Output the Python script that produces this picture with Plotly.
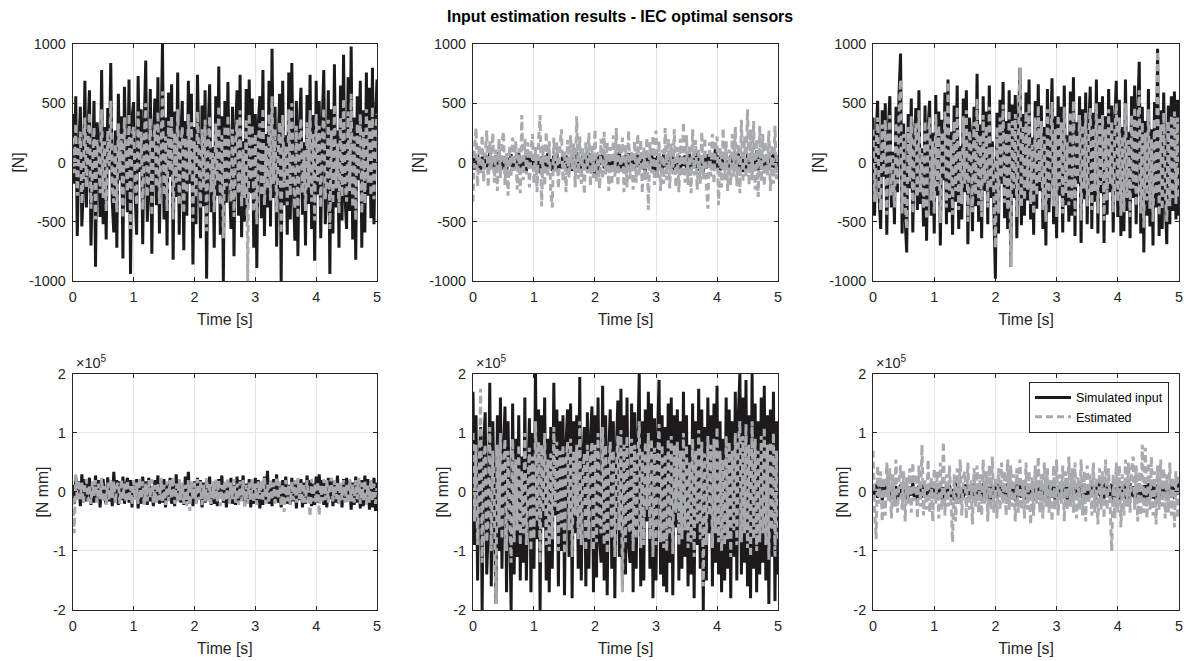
import plotly.graph_objects as go

# ---------------- data ----------------
time_s = [round(i * 0.025, 3) for i in range(201)]

sim1 = [410, -180, 560, -620, 90, 470, -540, -210, 690, -380,
        250, 610, -700, -90, 520, -880, 340, 120, -460, 780,
        -520, 300, -650, 460, -60, 840, -330, -590, 270, -720,
        580, -150, 390, -810, 640, 20, -420, 700, -940, 380,
        510, -260, -610, 730, -80, 450, -690, 310, 860, -500,
        -230, 620, -770, 190, 540, -360, 720, -600, 140, 1000,
        -480, 380, -700, 590, -120, 660, -820, 430, -290, 760,
        -610, 200, 520, -740, 350, -450, 690, -180, 580, -860,
        300, -520, 740, -90, -640, 480, -370, 610, -980, 250,
        660, -420, 130, -720, 560, -280, 810, -610, 390, -1000,
        520, -340, 680, -150, -560, 470, -790, 260, 610, -450,
        740, -630, 180, -500, 620, -380, 700, -260, 540, -720,
        410, -890, 330, 560, -470, 780, -620, 240, -380, 690,
        -540, 960, -300, 470, -710, 120, 580, -1000, 690, -360,
        230, -610, 760, -480, 840, -200, -660, 520, -790, 300,
        630, -440, 170, -700, 570, -350, 740, -560, 400, -830,
        690, -270, 520, -640, 320, 780, -520, -180, 610, -940,
        450, -600, 830, -380, 270, -720, 650, -490, 910, -300,
        -560, 720, -410, 980, -650, 380, -820, 560, -150, 690,
        -720, 440, -590, 760, -280, 630, -470, 800, -520, 360,
        700]
est1 = [210, -90, 330, -280, 40, 260, -350, -120, 380, -210,
        150, 420, -390, -60, 300, -480, 190, 70, -260, 450,
        -300, 180, -410, 270, -30, 520, -210, -340, 160, -420,
        330, -90, 240, -470, 380, 10, -250, 410, -560, 220,
        300, -150, -360, 430, -40, 260, -400, 190, 500, -290,
        -130, 370, -450, 110, 320, -210, 430, -350, 80, 600,
        -280, 220, -410, 350, -70, 390, -480, 250, -170, 450,
        -360, 120, 300, -430, 210, -260, 410, -100, 340, -500,
        180, -300, 430, -50, -380, 280, -220, 360, -580, 150,
        390, -250, 80, -420, 330, -160, 480, -360, 230, -640,
        310, -200, 400, -90, -330, 280, -460, 150, 360, -260,
        440, -370, 110, -300, 370, -1000, 410, -150, 320, -420,
        240, -520, 200, 330, -280, 460, -360, 140, -220, 410,
        -320, 560, -180, 280, -420, 70, 340, -600, 400, -210,
        140, -360, 450, -280, 500, -120, -390, 310, -470, 180,
        370, -260, 100, -410, 340, -210, 440, -330, 240, -490,
        410, -160, 310, -380, 190, 460, -310, -110, 360, -560,
        270, -350, 490, -220, 160, -430, 380, -290, 540, -180,
        -330, 430, -240, 580, -380, 220, -490, 330, -90, 410,
        -430, 260, -350, 450, -170, 370, -280, 470, -310, 210,
        410]

sim2 = [40, -60, 20, 70, -30, -80, 50, -10, 60, -40,
        30, 80, -50, 10, -70, 60, -20, 90, 20, -60,
        50, -30, -90, 40, -20, 70, -60, 10, 50, -40,
        80, -50, 20, -70, 60, -80, 30, 50, -40, 20,
        -60, 70, -30, 40, -90, 50, -10, 60, -50, 80,
        -40, 30, -70, 60, -20, 80, -60, 10, -50, 70,
        -30, 60, -80, 40, 20, -70, 50, -40, 90, -60,
        30, -70, 60, -20, 40, -60, 80, -30, 20, -60,
        -100, 50, -70, 60, -20, 70, -50, 40, -60, 70,
        -80, 50, -30, 60, -70, 30, 90, -60, 40, -50,
        60, -30, 80, -50, 20, -70, 60, -40, 70, -20,
        50, -60, 30, -80, 70, -40, 20, 110, -60, 40,
        -70, 60, -30, 50, -60, 70, -40, 20, -50, 60,
        -50, 80, -70, 40, -20, 60, -70, 50, -30, 60,
        -60, 30, 70, -60, 40, -30, 80, -70, 60, -20,
        60, -80, 40, -50, 70, -20, 50, -60, 30, 120,
        -50, 60, -70, 30, -60, 80, -40, 20, -70, 60,
        -30, 70, -60, 40, 90, -70, 50, -80, 30, -50,
        70, -60, 30, -80, 50, -40, 100, -70, 40, -60,
        60, -30, -70, 50, -60, 60, -40, 70, -50, 60,
        -40]
est2 = [-330, 120, 290, -200, 150, -90, 230, -160, 60, 270,
        -210, 180, -60, 250, -170, 110, -240, 200, -130, 160,
        260, -190, 80, -280, 140, -120, 210, -70, 180, -230,
        120, -260, 400, -150, 200, -100, 170, -210, 90, 240,
        -180, 130, -250, 190, 400, -370, 150, -200, 260, -120,
        180, -240, -380, 210, -90, 170, -220, 140, 280, -160,
        100, -250, 190, -130, 230, -60, 160, -210, 390, -140,
        220, -180, 120, -270, 170, -90, 250, -200, 140, -130,
        280, -160, 90, -220, 200, -140, 260, -100, 170, -240,
        130, -190, 230, -120, 290, -200, 160, -80, 210, -250,
        150, -210, 270, -140, 100, -230, 180, -170, 240, -110,
        190, -260, 130, -150, 210, -400, 170, -90, 230, -190,
        270, -130, 180, -240, 110, -180, 290, -150, 200, -220,
        160, -100, 280, -210, 130, -250, 200, -120, 340, -170,
        230, -190, 150, -260, 280, -110, 190, -230, 120, -180,
        260, -140, 210, -200, -390, 170, -120, 240, -180, 150,
        220, -360, 130, -210, 290, -150, 180, -240, 110, -190,
        240, -120, 300, -200, 160, -260, 360, -170, 220, -130,
        450, -190, 280, -150, 350, -230, 200, -290, 310, -160,
        240, -200, 180, -110, 270, -240, 150, -180, 310, -140,
        100]

sim3 = [380, -450, 210, 520, -300, -560, 440, -120, 500, -610,
        270, 560, -380, 90, -520, 470, -250, 580, 920, -600,
        330, -470, -760, 410, -220, 540, -590, 180, 460, -400,
        610, -350, 120, -540, 480, -660, 300, 520, -450, 250,
        -600, 570, -280, 430, -700, 360, -150, 590, -520, 700,
        -420, 260, -610, 480, -330, 650, -560, 140, -480, 540,
        -250, 610, -690, 380, 200, -580, 470, -370, 750, -500,
        320, -640, 560, -240, 430, -520, 650, -300, 180, -560,
        -980, 420, -600, 530, -180, 680, -470, 350, -560, 610,
        -880, 490, -300, 570, -640, 260, 800, -530, 410, -450,
        590, -320, 700, -480, 210, -610, 520, -390, 660, -240,
        480, -560, 300, -700, 620, -420, 180, 710, -520, 390,
        -640, 560, -280, 470, -590, 650, -360, 230, -500, 600,
        -450, 720, -620, 340, -180, 560, -680, 450, -310, 590,
        -520, 280, 640, -560, 420, -330, 700, -600, 510, -260,
        560, -680, 390, -440, 620, -250, 480, -590, 340, 690,
        -460, 530, -620, 300, -580, 700, -410, 260, -640, 560,
        -300, 650, -520, 400, 850, -600, 470, -760, 350, -450,
        620, -540, 280, -700, 510, -380, 960, -620, 440, -560,
        590, -300, -690, 480, -520, 560, -410, 600, -480, 530,
        -450]
est3 = [280, -330, 150, 380, -220, -400, 320, -90, 360, -440,
        200, 400, -280, 60, -380, 340, -180, 420, 700, -430,
        240, -340, -560, 300, -160, 390, -430, 130, 330, -290,
        440, -250, 90, -390, 350, -480, 220, 380, -320, 180,
        -430, 410, -200, 310, -510, 260, -110, 430, -380, 680,
        -300, 190, -440, 350, -240, 470, -400, 100, -350, 390,
        -180, 440, -500, 270, 140, -420, 340, -270, 540, -360,
        230, -460, 400, -170, 310, -380, 470, -220, 130, -400,
        -720, 300, -430, 380, -130, 490, -340, 250, -400, 440,
        -880, 350, -220, 410, -460, 190, 800, -380, 300, -320,
        430, -230, 500, -350, 150, -440, 380, -280, 480, -170,
        350, -400, 220, -500, 450, -300, 130, 510, -370, 280,
        -460, 400, -200, 340, -430, 470, -260, 170, -360, 430,
        -320, 520, -450, 240, -130, 400, -490, 320, -220, 420,
        -370, 200, 460, -400, 300, -240, 500, -430, 370, -190,
        400, -490, 280, -320, 450, -180, 350, -420, 240, 500,
        -330, 380, -450, 220, -420, 500, -300, 190, -460, 400,
        -220, 470, -370, 290, 610, -430, 340, -550, 250, -320,
        450, -390, 200, -500, 370, -270, 940, -450, 320, -400,
        420, -220, -500, 350, -370, 400, -300, 430, -350, 380,
        -320]

# bottom row values in units of 1e5 N mm
sim4 = [0.12, -0.2, 0.26, -0.08, 0.18, -0.24, 0.3, -0.1, 0.22, -0.16,
        0.06, 0.24, -0.22, 0.14, -0.18, 0.28, -0.12, 0.2, -0.26, 0.16,
        0.22, -0.1, -0.2, 0.25, -0.16, 0.12, -0.24, 0.34, -0.08, 0.2,
        -0.22, 0.18, -0.14, 0.26, -0.2, 0.1, 0.24, -0.18, 0.2, -0.26,
        0.16, -0.12, 0.22, -0.28, 0.14, -0.2, 0.26, -0.1, 0.18, -0.22,
        0.24, -0.16, 0.1, -0.24, 0.2, -0.14, 0.28, -0.2, 0.12, -0.18,
        0.22, -0.26, 0.16, -0.1, 0.24, -0.2, 0.18, -0.24, 0.3, -0.14,
        0.2, -0.18, 0.12, -0.22, 0.26, -0.16, 0.34, -0.2, 0.1, -0.24,
        0.18, -0.2, 0.24, -0.12, 0.2, -0.26, 0.16, -0.18, 0.22, -0.14,
        0.26, -0.22, 0.14, -0.2, 0.18, -0.24, 0.22, -0.1, 0.28, -0.18,
        0.16, -0.26, 0.2, -0.14, 0.24, -0.2, 0.12, -0.22, 0.26, -0.16,
        0.2, -0.12, 0.28, -0.24, 0.14, -0.18, 0.22, -0.26, 0.16, -0.2,
        0.24, -0.16, 0.2, -0.28, 0.12, -0.22, 0.26, -0.14, 0.36, -0.2,
        0.18, -0.24, 0.22, -0.12, 0.3, -0.18, 0.14, -0.26, 0.2, -0.16,
        0.26, -0.2, 0.12, -0.22, 0.24, -0.16, 0.2, -0.28, 0.18, -0.14,
        0.22, -0.26, 0.16, -0.2, 0.28, -0.12, 0.2, -0.24, 0.14, -0.22,
        0.26, -0.18, 0.3, -0.14, 0.2, -0.22, 0.16, -0.26, 0.24, -0.12,
        0.2, -0.24, 0.14, -0.18, 0.28, -0.2, 0.12, -0.26, 0.22, -0.16,
        0.24, -0.12, 0.2, -0.3, 0.16, -0.22, 0.26, -0.18, 0.14, -0.28,
        0.2, -0.24, 0.28, -0.16, 0.22, -0.3, 0.18, -0.26, 0.24, -0.32,
        0.16]
est4 = [-0.1, -0.7, 0.3, -0.14, 0.2, -0.12, 0.16, -0.2, 0.1, 0.22,
        -0.16, 0.12, -0.2, 0.18, -0.08, 0.2, -0.18, 0.14, -0.12, 0.24,
        -0.18, 0.1, -0.22, 0.16, -0.14, 0.2, -0.1, 0.18, -0.2, 0.12,
        0.16, -0.2, 0.22, -0.12, 0.14, -0.18, 0.2, -0.16, 0.1, -0.22,
        0.2, -0.14, 0.16, -0.2, 0.24, -0.12, 0.18, -0.22, 0.14, -0.16,
        0.2, -0.1, 0.22, -0.18, 0.12, -0.2, 0.16, -0.14, 0.24, -0.18,
        0.12, -0.22, 0.18, -0.16, 0.2, -0.12, 0.26, -0.2, 0.14, -0.18,
        0.22, -0.14, 0.16, -0.2, 0.12, -0.24, 0.2, -0.32, 0.18, -0.12,
        0.16, -0.2, 0.22, -0.14, 0.18, -0.22, 0.12, -0.16, 0.24, -0.18,
        0.14, -0.2, 0.18, -0.12, 0.22, -0.16, 0.2, -0.24, 0.12, -0.18,
        0.2, -0.14, 0.24, -0.2, 0.16, -0.12, 0.22, -0.18, 0.14, -0.22,
        0.18, -0.16, 0.2, -0.24, 0.12, -0.2, 0.16, -0.14, 0.22, -0.18,
        0.14, -0.22, 0.18, -0.12, 0.2, -0.16, 0.24, -0.2, 0.12, -0.18,
        0.22, -0.14, 0.16, -0.2, 0.26, -0.12, 0.18, -0.24, 0.14, -0.34,
        0.2, -0.16, 0.12, -0.22, 0.18, -0.14, 0.2, -0.18, 0.24, -0.12,
        0.16, -0.2, 0.14, -0.18, 0.2, -0.12, -0.42, 0.22, -0.16, 0.14,
        -0.2, 0.18, -0.4, 0.12, -0.16, 0.22, -0.14, 0.2, -0.18, 0.12,
        0.24, -0.16, 0.2, -0.12, 0.18, -0.22, 0.16, -0.14, 0.2, -0.18,
        0.12, -0.2, 0.22, -0.16, 0.14, -0.18, 0.2, -0.12, 0.24, -0.2,
        0.16, -0.14, 0.2, -0.22, 0.12, -0.18, 0.22, -0.16, 0.14, -0.2,
        0.1]

sim5 = [1.7, -0.9, 1.3, -1.5, 0.4, 1.1, -2.0, 0.8, 1.35, -1.4,
        -0.6, 1.85, -1.6, 1.2, -0.3, -1.9, 1.3, -1.0, 1.6, -1.3,
        0.7, 1.45, -1.7, 1.2, -0.5, -2.0, 1.5, -1.4, 0.9, -1.1,
        1.3, -1.5, 0.6, -1.2, 1.6, -1.5, 0.2, 1.25, -1.7, 1.0,
        -1.3, 2.0, -0.8, 1.4, -2.0, 1.3, -0.6, 1.6, -1.5, 0.9,
        -1.7, 1.1, -1.3, 1.85, -0.4, 1.4, -1.6, 1.2, -1.0, 1.3,
        -1.75, 0.8, 1.4, -1.1, 1.5, -1.8, 1.2, -0.7, 1.3, -1.3,
        1.95, -1.5, 0.5, 1.1, -1.6, 1.35, -1.3, 0.9, 1.45, -1.7,
        1.3, -1.45, 1.6, -0.8, -1.2, 1.8, -1.5, 1.3, -1.75, 0.6,
        1.4, -1.3, 1.2, -1.8, 0.7, 1.55, -1.1, 1.75, -1.6, 1.3,
        -1.4, 1.6, -0.9, -1.2, 1.5, -1.7, 1.35, -1.3, 0.8, 2.0,
        -1.6, 1.2, -1.5, 1.4, -0.5, 1.7, -1.3, 1.5, -1.8, 1.25,
        -1.5, 0.9, 1.9, -1.4, 1.3, -1.6, 1.1, -1.7, 1.5, -1.2,
        1.6, -1.75, 1.3, -0.6, 1.4, -1.5, 1.2, -1.3, 1.7, -1.1,
        1.3, -1.6, 0.8, -1.4, 1.5, -1.8, 1.2, -0.9, 1.75, -1.3,
        1.4, -2.0, 1.1, -1.5, 1.6, -0.7, 1.3, -1.6, 1.5, -1.2,
        1.8, -1.4, 1.2, -1.7, 0.9, -1.5, 1.6, -1.3, 1.4, -1.8,
        1.2, -1.1, 1.7, -1.5, 1.3, 2.0, -1.4, 1.6, -1.2, 1.9,
        -1.6, 1.3, -1.8, 2.0, -1.3, 1.5, -1.7, 1.2, -1.4, 1.6,
        -1.2, 1.8, -1.5, 1.3, -1.9, 1.4, -1.1, 1.7, -1.85, 1.2,
        -1.4]
est5 = [1.0, -0.5, 0.8, -0.9, 0.2, 1.75, -1.2, 0.5, 0.8, -0.85,
        -0.35, 1.1, -1.0, 0.7, -0.2, -1.9, 0.8, -0.6, 1.0, -0.8,
        0.4, 0.9, -1.0, 0.7, -0.3, -1.2, 0.9, -0.85, 0.55, -0.65,
        0.8, -0.9, 0.35, -0.7, 1.0, -0.9, 0.1, 0.75, -1.0, 0.6,
        -0.8, 1.2, -0.5, 0.85, -1.2, 0.8, -0.35, 1.0, -0.9, 0.55,
        -1.0, 0.65, -0.8, 1.1, -0.25, 0.85, -1.0, 0.7, -0.6, 0.8,
        -1.05, 0.5, 0.85, -0.65, 0.9, -1.1, 0.7, -0.4, 0.8, -0.8,
        1.2, -0.9, 0.3, 0.65, -1.0, 0.8, -0.8, 0.55, 0.85, -1.0,
        0.8, -0.85, 1.0, -0.5, -0.7, 1.1, -0.9, 0.8, -1.05, 0.35,
        0.85, -0.8, 0.7, -1.1, 0.4, 0.95, -0.65, 1.05, -1.7, 0.8,
        -0.85, 0.95, -0.55, -0.7, 0.9, -1.0, 0.8, -0.8, 0.5, 1.2,
        -0.95, 0.7, -0.9, 0.85, -0.3, 1.0, -0.8, 0.9, -1.1, 0.75,
        -0.9, 0.55, 1.15, -0.85, 0.8, -0.95, 0.65, -1.0, 0.9, -0.7,
        0.95, -1.05, 0.8, -0.35, 0.85, -0.9, 0.7, -0.8, 1.0, -0.65,
        0.8, -0.95, 0.5, -0.85, 0.9, -1.1, 0.7, -0.55, 1.05, -0.8,
        0.85, -1.6, 0.65, -0.9, 0.95, -0.4, 0.8, -0.95, 0.9, -0.7,
        1.1, -0.85, 0.7, -1.0, 0.55, -0.9, 0.95, -0.8, 0.85, -1.1,
        0.7, -0.65, 1.0, -0.9, 0.8, 1.2, -0.85, 0.95, -0.7, 1.15,
        -0.95, 0.8, -1.1, 1.2, -0.8, 0.9, -1.0, 0.7, -0.85, 0.95,
        -0.7, 1.1, -0.9, 0.8, -1.15, 0.85, -0.65, 1.0, -1.1, 0.7,
        -0.85]

sim6 = [0.1, -0.06, 0.14, -0.1, 0.04, 0.12, -0.14, 0.08, -0.05, 0.16,
        -0.1, 0.06, -0.12, 0.15, -0.04, 0.1, -0.15, 0.07, 0.12, -0.08,
        0.14, -0.11, 0.05, -0.13, 0.1, -0.06, 0.16, -0.09, 0.08, -0.14,
        0.11, -0.05, 0.13, -0.1, 0.07, -0.15, 0.12, -0.08, 0.15, -0.1,
        0.06, -0.12, 0.14, -0.07, 0.1, -0.13, 0.08, -0.1, 0.13, -0.06,
        0.12, -0.09, 0.05, -0.14, 0.16, -0.2, 0.1, -0.12, 0.07, -0.1,
        0.13, -0.06, 0.11, -0.15, 0.08, -0.1, 0.14, -0.07, 0.12, -0.11,
        0.09, -0.13, 0.15, -0.08, 0.06, -0.12, 0.1, -0.14, 0.13, -0.07,
        0.11, -0.1, 0.14, -0.06, 0.12, -0.13, 0.08, -0.11, 0.15, -0.09,
        0.07, -0.12, 0.1, -0.15, 0.13, -0.08, 0.11, -0.1, 0.06, -0.13,
        0.14, -0.07, 0.12, -0.1, 0.09, -0.14, 0.15, -0.06, 0.1, -0.12,
        0.08, -0.11, 0.13, -0.09, 0.16, -0.12, 0.07, -0.1, 0.12, -0.14,
        0.1, -0.08, 0.14, -0.12, 0.06, -0.1, 0.13, -0.15, 0.09, -0.07,
        0.12, -0.1, 0.08, -0.13, 0.15, -0.06, 0.11, -0.12, 0.14, -0.09,
        0.07, -0.11, 0.13, -0.08, 0.1, -0.14, 0.12, -0.06, 0.16, -0.1,
        0.13, -0.12, 0.18, -0.09, 0.11, -0.07, 0.14, -0.13, 0.08, -0.1,
        0.12, -0.15, 0.1, -0.06, 0.13, -0.11, 0.09, -0.12, 0.15, -0.08,
        0.1, -0.13, 0.07, -0.1, 0.14, -0.12, 0.11, -0.16, 0.12, -0.09,
        0.15, -0.08, 0.12, -0.11, 0.09, -0.14, 0.13, -0.07, 0.1, -0.12,
        0.14, -0.1, 0.06, -0.13, 0.11, -0.09, 0.15, -0.12, 0.08, -0.05,
        0.16]
est6 = [0.7, -0.3, -0.8, 0.45, -0.2, 0.35, -0.5, 0.25, -0.4, 0.5,
        -0.15, 0.4, -0.45, 0.3, -0.25, 0.55, -0.35, 0.2, 0.45, -0.3,
        0.35, -0.5, 0.25, -0.2, 0.4, -0.35, 0.5, -0.15, 0.3, -0.45,
        0.45, -0.25, 0.8, -0.4, 0.2, -0.3, 0.55, -0.35, 0.25, -0.5,
        0.4, -0.2, 0.35, -0.45, 0.5, -0.3, 0.85, -0.4, 0.3, -0.25,
        0.45, -0.35, -0.85, 0.3, -0.5, 0.4, -0.2, 0.55, -0.4, 0.25,
        0.35, -0.45, 0.5, -0.3, 0.2, -0.55, 0.4, -0.25, 0.45, -0.35,
        0.3, -0.4, 0.55, -0.2, 0.35, -0.5, 0.45, -0.3, 0.6, -0.35,
        0.25, -0.45, 0.4, -0.3, 0.5, -0.2, 0.35, -0.4, 0.55, -0.3,
        0.45, -0.25, 0.3, -0.5, 0.4, -0.35, 0.55, -0.3, 0.2, -0.45,
        0.5, -0.3, 0.35, -0.55, 0.25, -0.4, 0.45, -0.2, 0.6, -0.35,
        0.3, -0.45, 0.5, -0.25, 0.4, -0.35, 0.2, -0.5, 0.45, -0.3,
        0.55, -0.4, 0.3, -0.2, 0.45, -0.5, 0.35, -0.3, 0.6, -0.25,
        0.4, -0.35, 0.5, -0.45, 0.25, -0.3, 0.55, -0.4, 0.35, -0.5,
        0.45, -0.2, 0.3, -0.4, 0.5, -0.35, 0.25, -0.55, 0.4, -0.3,
        0.35, -0.45, 0.55, -0.3, 0.4, -0.25, -1.0, 0.3, -0.45, 0.5,
        -0.35, 0.45, -0.6, 0.3, -0.4, 0.55, -0.25, 0.5, -0.35, 0.4,
        0.6, -0.3, 0.45, -0.5, 0.35, -0.4, 0.8, -0.35, 0.75, -0.45,
        0.5, -0.3, 0.6, -0.4, 0.35, -0.55, 0.45, -0.3, 0.55, -0.25,
        0.4, -0.45, 0.3, -0.35, 0.5, -0.4, 0.25, -0.6, 0.35, -0.45,
        0.3]

simulated = [sim1, sim2, sim3, sim4, sim5, sim6]
estimated = [est1, est2, est3, est4, est5, est6]

x_ticks = [0, 1, 2, 3, 4, 5]
top_y_ticks = [-1000, -500, 0, 500, 1000]
bottom_y_ticks = [-2, -1, 0, 1, 2]
y_titles = ["[N]", "[N]", "[N]", "[N mm]", "[N mm]", "[N mm]"]
title_text = "Input estimation results - IEC optimal sensors"
legend_names = ["Simulated input", "Estimated"]

# ---------------- styling ----------------
FONT = "Liberation Sans, Arial, Helvetica, sans-serif"
AX = "#262626"
GRID = "#e6e6e6"
BLACK = "#1c1a1b"
GRAY = "#a9aaad"

x_domains = [[0.0610, 0.3163], [0.3968, 0.6527], [0.7324, 0.9891]]
y_domains = [[0.5749, 0.9334], [0.0772, 0.4342]]

fig = go.Figure()
layout = dict(
    width=1192, height=661,
    margin=dict(l=0, r=0, t=0, b=0),
    paper_bgcolor="white", plot_bgcolor="white",
    font=dict(family=FONT, size=14, color=AX),
    showlegend=True,
    legend=dict(x=0.9807, y=0.4221, xanchor="right", yanchor="top",
                bgcolor="white", bordercolor=AX, borderwidth=1,
                font=dict(size=12.5, color="#000000"),
                tracegroupgap=0, itemwidth=36),
    annotations=[],
)

for k in range(6):
    row, col = divmod(k, 3)
    idx = "" if k == 0 else str(k + 1)
    xa, ya = "x" + idx, "y" + idx
    last = (k == 5)
    fig.add_trace(go.Scatter(
        x=time_s, y=simulated[k], mode="lines", xaxis=xa, yaxis=ya,
        line=dict(color=BLACK, width=3),
        name=legend_names[0], showlegend=last, hoverinfo="skip"))
    fig.add_trace(go.Scatter(
        x=time_s, y=estimated[k], mode="lines", xaxis=xa, yaxis=ya,
        line=dict(color=GRAY, width=3, dash="7px,4px"),
        name=legend_names[1], showlegend=last, hoverinfo="skip"))

    common = dict(showline=True, linecolor=AX, linewidth=1, mirror="ticks",
                  ticks="inside", ticklen=4, tickcolor=AX,
                  showgrid=True, gridcolor=GRID, gridwidth=1,
                  zeroline=False, automargin=False, ticklabelstandoff=3,
                  tickfont=dict(family=FONT, size=14.4, color=AX))
    layout["xaxis" + idx] = dict(
        common, domain=x_domains[col], anchor=ya, range=[0, 5],
        tickvals=x_ticks, ticktext=[str(v) for v in x_ticks],
        title=dict(text="Time [s]", font=dict(size=15.8, color=AX), standoff=9))
    if row == 0:
        yt = dict(range=[-1000, 1000], tickvals=top_y_ticks,
                  ticktext=[str(v) for v in top_y_ticks])
    else:
        yt = dict(range=[-2, 2], tickvals=bottom_y_ticks,
                  ticktext=[str(v) for v in bottom_y_ticks])
    layout["yaxis" + idx] = dict(
        common, domain=y_domains[row], anchor=xa, **yt,
        title=dict(text=y_titles[k], font=dict(size=15.8, color=AX), standoff=0))
    if row == 1:
        layout["annotations"].append(dict(
            text="\u00d710<sup>5</sup>", xref="paper", yref="paper",
            x=x_domains[col][0] + 0.001, y=y_domains[1][1] + 0.002,
            xanchor="left", yanchor="bottom", showarrow=False,
            font=dict(family=FONT, size=14.4, color=AX)))

layout["annotations"].append(dict(
    text="<b>" + title_text + "</b>", xref="paper", yref="paper",
    x=0.520, y=1 - 16 / 661, xanchor="center", yanchor="middle",
    showarrow=False, font=dict(family=FONT, size=15.9, color="#000000")))

fig.update_layout(**layout)
fig.write_html("out.html")
